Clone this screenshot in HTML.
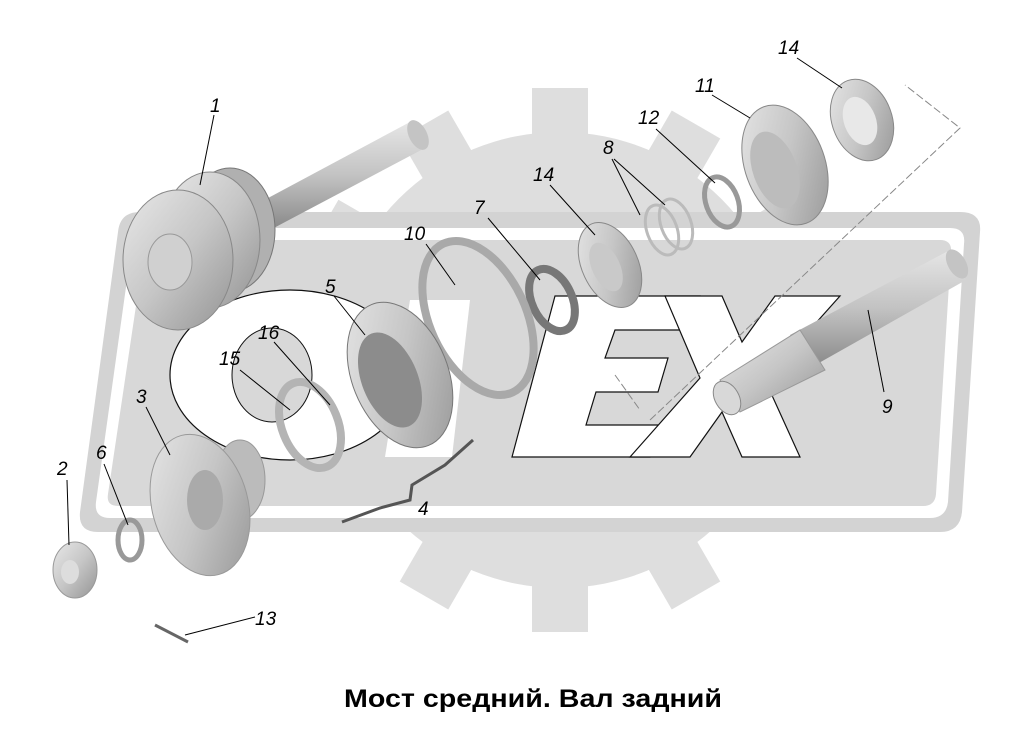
<!DOCTYPE html>
<html><head><meta charset="utf-8"><style>
html,body{margin:0;padding:0;background:#fff;}
svg{display:block}
text{font-family:"Liberation Sans",sans-serif;}
</style></head><body>
<svg width="1019" height="742" viewBox="0 0 1019 742" xmlns="http://www.w3.org/2000/svg">
<defs>
<linearGradient id="mg" x1="0" y1="0" x2="1" y2="1">
<stop offset="0" stop-color="#e8e8e8"/><stop offset="0.5" stop-color="#c6c6c6"/><stop offset="1" stop-color="#949494"/>
</linearGradient>
<linearGradient id="sh" x1="0" y1="0" x2="0" y2="1">
<stop offset="0" stop-color="#e6e6e6"/><stop offset="0.5" stop-color="#c2c2c2"/><stop offset="1" stop-color="#888"/>
</linearGradient>
</defs>
<g fill="#dedede">
<circle cx="560" cy="360" r="228"/>
<g transform="translate(560,360)">
<rect x="-28" y="-272" width="56" height="60"/>
<rect x="-28" y="-272" width="56" height="60" transform="rotate(30)"/>
<rect x="-28" y="-272" width="56" height="60" transform="rotate(60)"/>
<rect x="-28" y="-272" width="56" height="60" transform="rotate(90)"/>
<rect x="-28" y="-272" width="56" height="60" transform="rotate(120)"/>
<rect x="-28" y="-272" width="56" height="60" transform="rotate(150)"/>
<rect x="-28" y="-272" width="56" height="60" transform="rotate(180)"/>
<rect x="-28" y="-272" width="56" height="60" transform="rotate(210)"/>
<rect x="-28" y="-272" width="56" height="60" transform="rotate(240)"/>
<rect x="-28" y="-272" width="56" height="60" transform="rotate(270)"/>
<rect x="-28" y="-272" width="56" height="60" transform="rotate(300)"/>
<rect x="-28" y="-272" width="56" height="60" transform="rotate(330)"/>
</g>
</g>
<path d="M140,212 L960,212 Q982,212 980,232 L962,512 Q960,532 940,532 L98,532 Q78,532 80,512 L118,232 Q120,212 140,212 Z" fill="#d3d3d3"/>
<path d="M150,228 L950,228 Q966,228 964,244 L948,502 Q946,518 930,518 L110,518 Q94,518 96,502 L132,244 Q134,228 150,228 Z" fill="#fff"/>
<path d="M158,240 L940,240 Q952,240 951,252 L936,494 Q935,506 923,506 L118,506 Q106,506 108,494 L144,252 Q146,240 158,240 Z" fill="#d8d8d8"/>
<ellipse cx="290" cy="375" rx="120" ry="85" fill="#fff" stroke="#111" stroke-width="1.2"/>
<ellipse cx="272" cy="375" rx="40" ry="47" fill="#d8d8d8" stroke="#111" stroke-width="1"/>
<path d="M410,300 L470,300 L452,457 L385,457 Z" fill="#fff"/>
<path d="M512,457 L555,296 L700,296 L688,330 L615,330 L605,358 L668,358 L658,392 L596,392 L586,425 L660,425 L650,457 Z" fill="#fff" stroke="#111" stroke-width="1.2"/>
<path d="M630,457 L700,378 L665,296 L722,296 L742,342 L775,296 L840,296 L765,380 L800,457 L742,457 L722,412 L690,457 Z" fill="#fff" stroke="#111" stroke-width="1.2"/>
<path d="M650,420 L960,128 L905,85" fill="none" stroke="#888" stroke-width="1" stroke-dasharray="8,3"/>
<path d="M615,375 L640,410" fill="none" stroke="#888" stroke-dasharray="8,3"/>
<g>
<polygon points="255,205 410,122 425,148 270,230" fill="url(#sh)"/>
<ellipse cx="418" cy="135" rx="9" ry="16" fill="#c4c4c4" transform="rotate(-27 418 135)"/>
<ellipse cx="230" cy="230" rx="45" ry="62" fill="#b0b0b0" stroke="#777"/>
<ellipse cx="210" cy="240" rx="50" ry="68" fill="url(#mg)" stroke="#888"/>
<ellipse cx="178" cy="260" rx="55" ry="70" fill="url(#mg)" stroke="#888"/>
<ellipse cx="170" cy="262" rx="22" ry="28" fill="#d0d0d0" stroke="#999"/>
</g>
<g>
<polygon points="790,335 950,250 966,280 810,368" fill="url(#sh)"/>
<polygon points="720,380 800,330 825,370 740,412" fill="url(#mg)" stroke="#999"/>
<ellipse cx="727" cy="398" rx="12" ry="18" fill="#d8d8d8" stroke="#888" transform="rotate(-30 727 398)"/>
<ellipse cx="957" cy="264" rx="9" ry="16" fill="#c4c4c4" transform="rotate(-30 957 264)"/>
</g>
<ellipse cx="785" cy="165" rx="40" ry="62" fill="url(#mg)" stroke="#888" transform="rotate(-20 785 165)"/>
<ellipse cx="775" cy="170" rx="22" ry="40" fill="#bcbcbc" transform="rotate(-20 775 170)"/>
<ellipse cx="862" cy="120" rx="30" ry="42" fill="url(#mg)" stroke="#888" transform="rotate(-20 862 120)"/>
<ellipse cx="860" cy="121" rx="16" ry="25" fill="#e8e8e8" transform="rotate(-20 860 121)"/>
<ellipse cx="722" cy="202" rx="16" ry="26" fill="none" stroke="#999" stroke-width="5" transform="rotate(-20 722 202)"/>
<ellipse cx="662" cy="230" rx="15" ry="26" fill="none" stroke="#bbb" stroke-width="3" transform="rotate(-20 662 230)"/>
<ellipse cx="676" cy="224" rx="15" ry="26" fill="none" stroke="#bbb" stroke-width="3" transform="rotate(-20 676 224)"/>
<ellipse cx="610" cy="265" rx="28" ry="45" fill="url(#mg)" stroke="#888" transform="rotate(-25 610 265)"/>
<ellipse cx="606" cy="267" rx="14" ry="26" fill="#c9c9c9" transform="rotate(-25 606 267)"/>
<ellipse cx="552" cy="300" rx="20" ry="33" fill="none" stroke="#777" stroke-width="8" transform="rotate(-25 552 300)"/>
<ellipse cx="478" cy="318" rx="48" ry="82" fill="none" stroke="#a9a9a9" stroke-width="8" transform="rotate(-25 478 318)"/>
<ellipse cx="400" cy="375" rx="48" ry="76" fill="url(#mg)" stroke="#777" transform="rotate(-22 400 375)"/>
<ellipse cx="390" cy="380" rx="28" ry="50" fill="#8c8c8c" transform="rotate(-22 390 380)"/>
<ellipse cx="310" cy="425" rx="28" ry="45" fill="none" stroke="#b4b4b4" stroke-width="8" transform="rotate(-22 310 425)"/>
<ellipse cx="240" cy="480" rx="25" ry="40" fill="#bbb" stroke="#999"/>
<ellipse cx="200" cy="505" rx="48" ry="72" fill="url(#mg)" stroke="#999" transform="rotate(-15 200 505)"/>
<ellipse cx="205" cy="500" rx="18" ry="30" fill="#aaa"/>
<ellipse cx="130" cy="540" rx="12" ry="20" fill="none" stroke="#999" stroke-width="5"/>
<ellipse cx="75" cy="570" rx="22" ry="28" fill="url(#mg)" stroke="#999"/>
<ellipse cx="70" cy="572" rx="9" ry="12" fill="#ddd"/>
<path d="M155,625 L188,642" stroke="#666" stroke-width="3"/>
<path d="M342,522 L380,508 L410,500 L412,485 L445,465 L473,440" fill="none" stroke="#555" stroke-width="3"/>
<g stroke="#000" stroke-width="1" fill="none">
<path d="M214,115 L200,185"/>
<path d="M67,480 L69,545"/>
<path d="M146,407 L170,455"/>
<path d="M334,296 L365,335"/>
<path d="M104,464 L128,525"/>
<path d="M488,218 L540,280"/>
<path d="M612,159 L640,215 M614,159 L665,205"/>
<path d="M884,392 L868,310"/>
<path d="M426,244 L455,285"/>
<path d="M712,95 L750,118"/>
<path d="M656,129 L715,183"/>
<path d="M255,617 L185,635"/>
<path d="M550,185 L595,235"/>
<path d="M797,58 L842,88"/>
<path d="M240,370 L290,410"/>
<path d="M274,342 L330,405"/>
</g>
<g font-size="19" font-style="italic" fill="#000">
<text x="210" y="112">1</text>
<text x="57" y="475">2</text>
<text x="136" y="403">3</text>
<text x="418" y="515">4</text>
<text x="325" y="293">5</text>
<text x="96" y="459">6</text>
<text x="474" y="214">7</text>
<text x="603" y="154">8</text>
<text x="882" y="413">9</text>
<text x="404" y="240">10</text>
<text x="695" y="92">11</text>
<text x="638" y="124">12</text>
<text x="255" y="625">13</text>
<text x="533" y="181">14</text>
<text x="778" y="54">14</text>
<text x="219" y="365">15</text>
<text x="258" y="339">16</text>
</g>
<text x="533" y="707" font-size="25" font-weight="bold" text-anchor="middle" fill="#000" textLength="378" lengthAdjust="spacingAndGlyphs">Мост средний. Вал задний</text>
</svg>
</body></html>
